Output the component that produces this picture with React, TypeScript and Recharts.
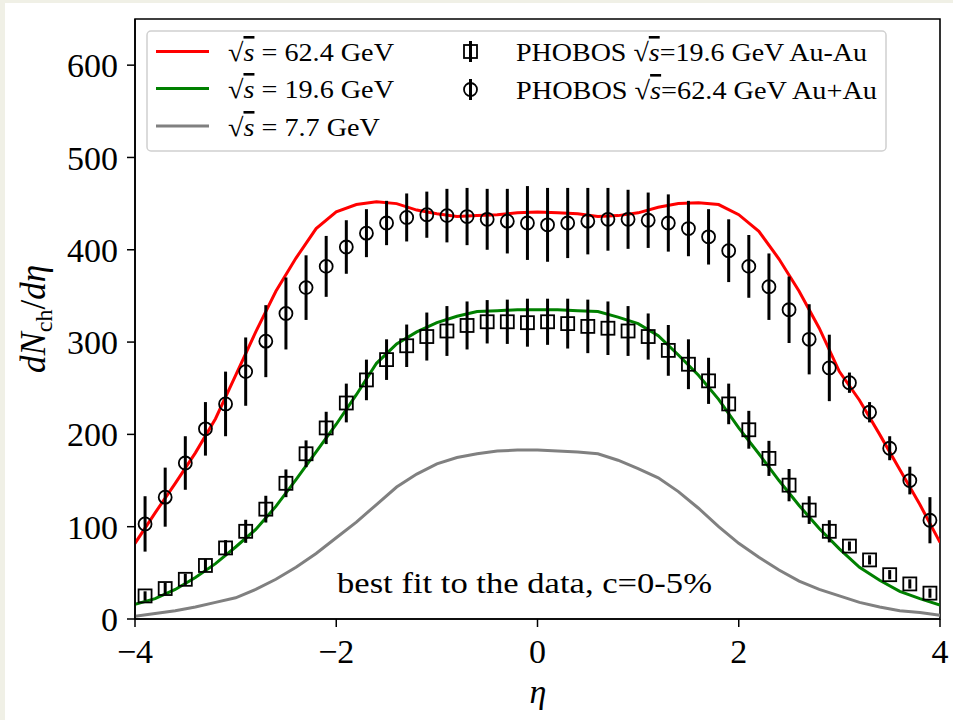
import React from 'react';
import { ComposedChart, Line, Scatter, ErrorBar, XAxis, YAxis, ReferenceArea } from 'recharts';

const FONT = "'Liberation Serif', 'Times New Roman', serif";

// model curves
const curveEta = [-4.0,-3.8,-3.6,-3.4,-3.2,-3.0,-2.8,-2.6,-2.4,-2.2,-2.0,-1.8,-1.6,-1.4,-1.2,-1.0,-0.8,-0.6,-0.4,-0.2,0.0,0.2,0.4,0.6,0.8,1.0,1.2,1.4,1.6,1.8,2.0,2.2,2.4,2.6,2.8,3.0,3.2,3.4,3.6,3.8,4.0];
const curve624 = [82,115,147,180,217,264,311,355,391,423,441,449,452,450,443,439,436,437,438,440,441,440,439,436,437,440,446,450,451,449,438,420,390,355,315,268,237,200,162,124,83];
const curve196 = [16,22,32,45,60,78,97,122,151,181,211,243,277,298,311,321,328,333,334,335,335,335,334,333,327,320,307,286,264,238,207,179,150,123,98,76,56,42,30,22,15];
const curve77 = [3,6,9,13,18,23,32,43,56,71,88,105,124,143,157,168,175,179,182,183,183,182,181,179,172,163,153,138,120,100,82,67,53,41,32,25,18,13,9,7,4];

// PHOBOS data
const dataEta = [-3.9,-3.7,-3.5,-3.3,-3.1,-2.9,-2.7,-2.5,-2.3,-2.1,-1.9,-1.7,-1.5,-1.3,-1.1,-0.9,-0.7,-0.5,-0.3,-0.1,0.1,0.3,0.5,0.7,0.9,1.1,1.3,1.5,1.7,1.9,2.1,2.3,2.5,2.7,2.9,3.1,3.3,3.5,3.7,3.9];
const phobos624 = [103,132,169,206,233,268,301,331,359,382,403,418,429,435,438,437,436,433,431,429,427,429,431,433,433,432,429,423,414,399,382,360,335,303,272,256,224,185,150,107];
const phobos624Err = [30,32,29,29,35,37,39,39,35,33,29,26,24,26,25,29,31,33,35,40,40,38,36,34,32,30,31,30,30,34,34,36,36,38,36,11,11,13,15,25];
const phobos196 = [25,33,43,58,77,95,119,147,179,207,234,259,281,296,306,312,318,322,322,321,322,320,317,315,312,306,291,276,258,233,205,174,145,118,95,79,64,48,38,28];
const phobos196Err = [5,6,6,7,8.5,12.5,14.5,15,14.5,17.5,21,22,22,23,26,27,26,23.5,24,26,25,27,29,29,27,25,27.5,27,25,22,20.5,19,17.5,15,12,5,5,5,5,5];

const xTicks = [-4, -2, 0, 2, 4];
const yTicks = [0, 100, 200, 300, 400, 500, 600];

const curveData = curveEta.map((eta, i) => ({ eta, r: curve624[i], g: curve196[i], k: curve77[i] }));
const circData = dataEta.map((eta, i) => ({ eta, v: phobos624[i], err: phobos624Err[i] }));
const sqData = dataEta.map((eta, i) => ({ eta, v: phobos196[i], err: phobos196Err[i] }));

const fmt = (v: number) => (v < 0 ? `\u2212${Math.abs(v)}` : `${v}`);

const CircleShape = (p: any) => (
  <circle cx={p.cx} cy={p.cy} r={6.5} fill="none" stroke="#000" strokeWidth={1.8} />
);
const SquareShape = (p: any) => (
  <rect x={p.cx - 6.5} y={p.cy - 6.5} width={13} height={13} fill="none" stroke="#000" strokeWidth={1.8} />
);

const tickStyle = { fontSize: 34, fontFamily: FONT, fill: '#000' };

const SqrtS = () => (
  <>
    <tspan>√</tspan>
    <tspan fontStyle="italic" textDecoration="overline">s</tspan>
  </>
);

export default function App() {
  return (
    <div style={{ position: 'absolute', left: 0, top: 0, width: 953, height: 720, background: '#f0f0e6', overflow: 'hidden' }}>
      <div style={{ position: 'absolute', left: 5, top: 3, width: 948, height: 717, background: '#fff' }} />
      <div style={{ position: 'absolute', left: 0, top: 0 }}>
        <ComposedChart width={953} height={720} data={curveData} margin={{ top: 19, right: 13, bottom: 0, left: 0 }}>
          <XAxis
            dataKey="eta"
            type="number"
            domain={[-4, 4]}
            ticks={xTicks}
            tickFormatter={fmt}
            height={101}
            tick={tickStyle}
            tickSize={8}
            tickMargin={12}
            axisLine={{ stroke: '#000', strokeWidth: 1.6 }}
            tickLine={{ stroke: '#000', strokeWidth: 1.5 }}
            allowDataOverflow
          />
          <YAxis
            type="number"
            domain={[0, 650]}
            ticks={yTicks}
            tickFormatter={fmt}
            width={135}
            tick={tickStyle}
            tickSize={8}
            tickMargin={9}
            axisLine={{ stroke: '#000', strokeWidth: 1.6 }}
            tickLine={{ stroke: '#000', strokeWidth: 1.5 }}
            allowDataOverflow
          />
          <Line dataKey="r" type="linear" stroke="#ff0000" strokeWidth={3} dot={false} isAnimationActive={false} />
          <Line dataKey="g" type="linear" stroke="#008000" strokeWidth={3} dot={false} isAnimationActive={false} />
          <Line dataKey="k" type="linear" stroke="#808080" strokeWidth={3} dot={false} isAnimationActive={false} />
          <Scatter data={sqData} dataKey="v" shape={SquareShape} isAnimationActive={false}>
            <ErrorBar dataKey="err" direction="y" width={0} stroke="#000" strokeWidth={3} />
          </Scatter>
          <Scatter data={circData} dataKey="v" shape={CircleShape} isAnimationActive={false}>
            <ErrorBar dataKey="err" direction="y" width={0} stroke="#000" strokeWidth={3} />
          </Scatter>
          <ReferenceArea x1={-4} x2={4} y1={0} y2={650} fill="none" stroke="#000" strokeWidth={1.6} fillOpacity={0} />
        </ComposedChart>
      </div>
      <svg width={953} height={720} style={{ position: 'absolute', left: 0, top: 0, pointerEvents: 'none' }}>
        {/* legend */}
        <rect x={147} y={31} width={739} height={120} rx={4} fill="#fff" fillOpacity={0.85} stroke="#d0d0d0" strokeWidth={1.5} />
        <line x1={156} x2={209} y1={51.5} y2={51.5} stroke="#ff0000" strokeWidth={3} />
        <line x1={156} x2={209} y1={88.5} y2={88.5} stroke="#008000" strokeWidth={3} />
        <line x1={156} x2={209} y1={126} y2={126} stroke="#808080" strokeWidth={3} />
        <text x={228} y={61} fontFamily={FONT} fontSize={26} fill="#000" textLength={166} lengthAdjust="spacingAndGlyphs">
          <SqrtS />
          <tspan> = 62.4 GeV</tspan>
        </text>
        <text x={228} y={98} fontFamily={FONT} fontSize={26} fill="#000" textLength={166} lengthAdjust="spacingAndGlyphs">
          <SqrtS />
          <tspan> = 19.6 GeV</tspan>
        </text>
        <text x={228} y={136} fontFamily={FONT} fontSize={26} fill="#000" textLength={152} lengthAdjust="spacingAndGlyphs">
          <SqrtS />
          <tspan> = 7.7 GeV</tspan>
        </text>
        <rect x={464} y={45} width={13} height={13} fill="none" stroke="#000" strokeWidth={1.8} />
        <line x1={470.5} x2={470.5} y1={41} y2={62} stroke="#000" strokeWidth={3} />
        <circle cx={470.5} cy={89.5} r={6.5} fill="none" stroke="#000" strokeWidth={1.8} />
        <line x1={470.5} x2={470.5} y1={79} y2={100} stroke="#000" strokeWidth={3} />
        <text x={516} y={61} fontFamily={FONT} fontSize={26} fill="#000" textLength={351} lengthAdjust="spacingAndGlyphs">
          <tspan>PHOBOS </tspan>
          <SqrtS />
          <tspan>=19.6 GeV Au-Au</tspan>
        </text>
        <text x={516} y={99} fontFamily={FONT} fontSize={26} fill="#000" textLength={361} lengthAdjust="spacingAndGlyphs">
          <tspan>PHOBOS </tspan>
          <SqrtS />
          <tspan>=62.4 GeV Au+Au</tspan>
        </text>
        {/* annotation */}
        <text x={337} y={593} fontFamily={FONT} fontSize={30} fill="#000" textLength={375} lengthAdjust="spacingAndGlyphs">
          best fit to the data, c=0-5%
        </text>
        {/* axis labels */}
        <text x={538} y={703} fontFamily={FONT} fontSize={34} fontStyle="italic" fill="#000" textAnchor="middle">η</text>
        <text x={45} y={319} transform="rotate(-90 45 319)" fontFamily={FONT} fontSize={35} fill="#000" textAnchor="middle">
          <tspan fontStyle="italic">dN</tspan>
          <tspan fontSize={24} dy={7}>ch</tspan>
          <tspan dy={-7}>/</tspan>
          <tspan fontStyle="italic">dη</tspan>
        </text>
      </svg>
    </div>
  );
}
